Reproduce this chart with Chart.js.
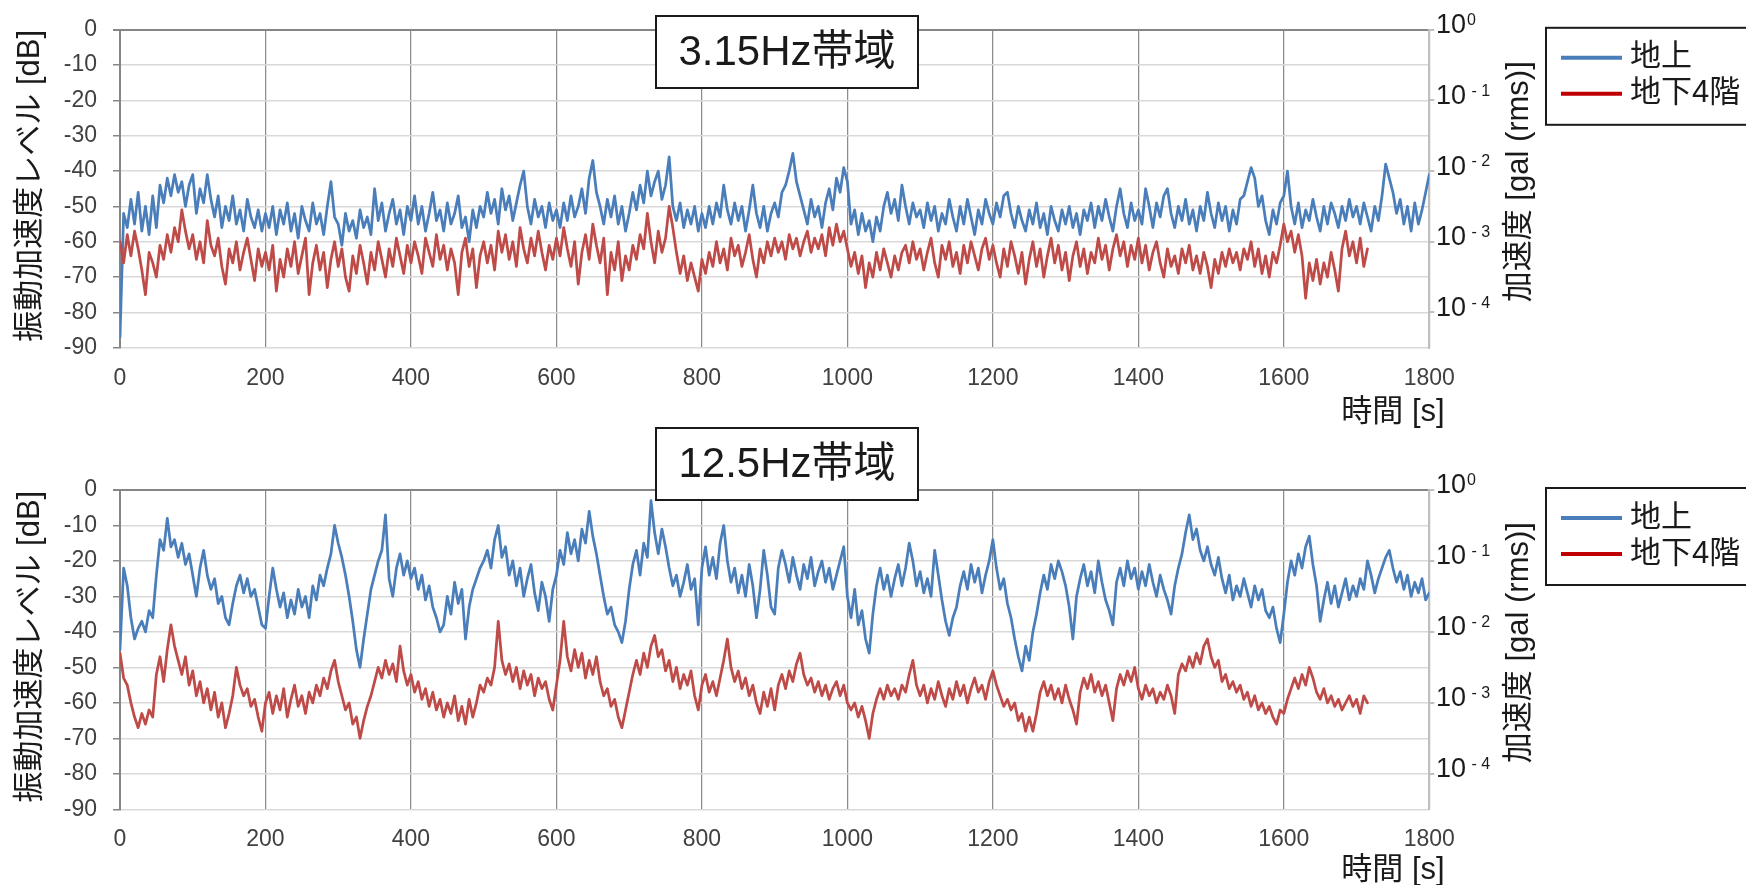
<!DOCTYPE html>
<html>
<head>
<meta charset="utf-8">
<script src="https://cdn.jsdelivr.net/npm/chart.js@4.4.0/dist/chart.umd.min.js"></script>
<style>
  html, body { margin: 0; padding: 0; background: #fff; }
  body { width: 1746px; height: 885px; position: relative; overflow: hidden; }
  .panel { position: absolute; left: 0; }
  #panelTop { top: 0; }
  #panelBottom { top: 420px; }
</style>
</head>
<body>
<div class="panel" id="panelTop"><canvas id="chartTop" width="1746" height="442"></canvas></div>
<div class="panel" id="panelBottom"><canvas id="chartBottom" width="1746" height="465"></canvas></div>
<script>
// one sample every 5 s
var SAMPLE_STEP_S = 5;
var seriesNames = ["地上", "地下4階"];
var panelTitles = ["3.15Hz帯域", "12.5Hz帯域"];
var rightTickExponents = [0, -1, -2, -3, -4];

// 3.15Hz帯域 - 地上 [dB]
var band315Ground = [
  -87,-52,-56,-48,-55,-46,-57,-50,-58,-47,-56,-44,-49,-42,-47,-41,-46,-43,-50,-44,
  -41,-52,-45,-49,-41,-48,-53,-47,-56,-50,-54,-47,-55,-51,-57,-48,-53,-56,-51,-57,
  -52,-56,-50,-58,-51,-55,-49,-57,-52,-59,-50,-54,-57,-49,-55,-52,-58,-50,-43,-53,
  -55,-61,-52,-57,-54,-59,-51,-56,-53,-58,-45,-54,-49,-57,-52,-48,-55,-51,-58,-50,
  -54,-47,-55,-50,-57,-52,-46,-54,-51,-57,-49,-55,-52,-47,-56,-53,-60,-51,-56,-50,
  -53,-46,-52,-48,-55,-45,-51,-47,-54,-49,-44,-40,-50,-55,-48,-53,-50,-56,-49,-54,
  -51,-56,-49,-54,-47,-53,-50,-45,-52,-42,-37,-46,-50,-55,-48,-53,-47,-55,-50,-57,
  -52,-46,-51,-44,-49,-40,-47,-43,-40,-48,-44,-36,-50,-54,-49,-56,-51,-55,-50,-57,
  -52,-56,-50,-55,-49,-53,-44,-51,-55,-49,-54,-50,-57,-51,-44,-52,-56,-50,-57,-52,
  -49,-53,-46,-44,-40,-35,-43,-47,-51,-55,-48,-53,-50,-56,-49,-45,-51,-42,-46,-39,
  -43,-55,-51,-58,-52,-57,-54,-60,-53,-57,-50,-46,-52,-48,-54,-44,-50,-55,-49,-53,
  -51,-56,-49,-54,-50,-57,-52,-55,-48,-53,-57,-50,-55,-48,-53,-58,-51,-55,-48,-52,
  -55,-49,-53,-47,-46,-52,-56,-50,-54,-57,-51,-55,-49,-56,-52,-58,-50,-54,-57,-51,
  -55,-50,-56,-52,-58,-51,-54,-49,-56,-50,-54,-48,-53,-57,-50,-45,-52,-56,-49,-54,
  -51,-55,-45,-50,-56,-49,-53,-47,-45,-52,-56,-50,-54,-48,-55,-51,-57,-50,-54,-46,
  -52,-56,-49,-54,-50,-57,-51,-55,-48,-47,-43,-39,-42,-50,-47,-54,-58,-51,-55,-49,
  -47,-40,-50,-55,-49,-56,-51,-54,-48,-53,-57,-50,-55,-49,-52,-56,-50,-54,-48,-53,
  -50,-55,-49,-53,-57,-50,-54,-47,-38,-42,-46,-52,-48,-55,-50,-57,-49,-55,-51,-46,
  -41
];

// 3.15Hz帯域 - 地下4階 [dB]
var band315Basement = [
  -60,-66,-58,-64,-57,-62,-68,-75,-63,-66,-70,-61,-65,-58,-63,-56,-60,-51,-57,-62,
  -58,-65,-60,-66,-54,-61,-64,-59,-67,-72,-62,-66,-60,-68,-63,-59,-65,-71,-62,-67,
  -63,-68,-61,-74,-65,-70,-62,-67,-60,-69,-64,-59,-75,-66,-61,-68,-63,-73,-65,-60,
  -67,-62,-70,-74,-64,-69,-61,-66,-72,-63,-68,-60,-65,-70,-62,-67,-59,-64,-69,-61,
  -66,-60,-64,-69,-59,-63,-67,-58,-65,-61,-68,-62,-66,-75,-63,-59,-67,-62,-73,-64,
  -60,-66,-61,-68,-57,-63,-58,-65,-60,-67,-56,-62,-66,-59,-64,-57,-63,-68,-61,-65,
  -59,-64,-56,-62,-67,-60,-72,-63,-58,-65,-55,-61,-66,-59,-75,-63,-68,-60,-71,-64,
  -68,-61,-65,-58,-62,-52,-60,-66,-57,-63,-59,-50,-56,-63,-69,-64,-71,-66,-70,-74,
  -65,-69,-63,-67,-60,-66,-62,-68,-59,-64,-61,-67,-63,-58,-65,-70,-62,-66,-60,-64,
  -59,-63,-60,-65,-58,-62,-59,-64,-60,-57,-63,-59,-62,-58,-64,-56,-61,-55,-60,-57,
  -62,-67,-63,-69,-64,-73,-66,-70,-63,-68,-62,-66,-70,-64,-68,-63,-61,-66,-60,-65,
  -62,-68,-63,-59,-66,-70,-61,-65,-60,-67,-63,-69,-61,-66,-60,-64,-68,-62,-59,-65,
  -61,-66,-70,-62,-67,-60,-64,-69,-63,-72,-65,-60,-67,-62,-70,-64,-59,-66,-61,-68,
  -63,-71,-64,-60,-67,-62,-69,-63,-66,-59,-65,-61,-68,-62,-58,-64,-60,-67,-61,-65,
  -59,-66,-61,-68,-63,-60,-66,-70,-62,-67,-64,-69,-62,-66,-61,-68,-64,-69,-63,-67,
  -73,-65,-69,-63,-67,-62,-66,-63,-68,-62,-65,-60,-67,-62,-69,-64,-70,-63,-66,-61,
  -55,-60,-57,-63,-58,-64,-76,-66,-71,-65,-72,-66,-70,-63,-68,-74,-62,-57,-64,-60,
  -66,-59,-67,-62
];

// 12.5Hz帯域 - 地上 [dB]
var band125Ground = [
  -45,-22,-27,-36,-42,-39,-37,-40,-34,-36,-24,-14,-17,-8,-16,-14,-19,-15,-21,-18,
  -24,-30,-22,-17,-24,-28,-25,-32,-30,-36,-38,-32,-27,-24,-29,-25,-30,-28,-33,-38,
  -39,-30,-22,-28,-33,-29,-36,-31,-35,-28,-33,-30,-36,-27,-31,-24,-27,-22,-18,-10,
  -15,-19,-24,-30,-37,-45,-50,-42,-35,-28,-24,-20,-17,-7,-25,-30,-22,-18,-24,-20,
  -25,-22,-28,-24,-31,-27,-33,-36,-40,-38,-30,-35,-26,-32,-28,-42,-33,-28,-25,-22,
  -20,-17,-22,-14,-10,-19,-16,-24,-20,-27,-22,-30,-25,-21,-29,-34,-26,-30,-37,-28,
  -24,-17,-21,-12,-18,-14,-20,-11,-15,-6,-13,-18,-24,-30,-35,-33,-38,-40,-43,-37,
  -28,-21,-17,-24,-15,-19,-3,-12,-18,-11,-16,-22,-27,-24,-30,-26,-21,-28,-25,-38,
  -22,-16,-24,-19,-25,-15,-10,-20,-26,-22,-29,-24,-30,-21,-27,-36,-28,-17,-24,-33,
  -35,-22,-17,-21,-26,-19,-24,-28,-21,-25,-19,-27,-23,-20,-26,-22,-28,-24,-20,-16,
  -30,-36,-28,-38,-34,-42,-46,-35,-27,-22,-28,-24,-30,-25,-21,-27,-22,-15,-20,-27,
  -23,-29,-25,-30,-17,-24,-31,-37,-41,-36,-33,-27,-23,-28,-21,-26,-22,-29,-24,-20,
  -14,-22,-28,-25,-32,-36,-42,-47,-51,-44,-48,-40,-35,-29,-24,-28,-21,-25,-20,-23,
  -27,-33,-42,-30,-25,-21,-27,-23,-29,-20,-26,-31,-34,-38,-26,-22,-27,-20,-25,-22,
  -28,-23,-27,-21,-26,-30,-24,-28,-31,-35,-27,-22,-18,-12,-7,-14,-11,-17,-20,-16,
  -21,-24,-19,-25,-29,-24,-31,-27,-30,-25,-29,-33,-27,-31,-28,-34,-36,-33,-39,-43,
  -35,-26,-20,-24,-18,-22,-16,-13,-21,-27,-37,-31,-26,-32,-27,-33,-29,-25,-31,-27,
  -30,-25,-28,-20,-24,-29,-25,-22,-19,-17,-22,-26,-23,-28,-24,-30,-26,-29,-25,-31,
  -29
];

// 12.5Hz帯域 - 地下4階 [dB]
var band125Basement = [
  -46,-53,-55,-60,-64,-67,-63,-66,-62,-64,-52,-47,-54,-45,-38,-44,-48,-52,-47,-55,
  -51,-58,-54,-60,-56,-62,-57,-64,-60,-67,-63,-58,-50,-55,-58,-56,-61,-59,-64,-68,
  -60,-57,-63,-58,-62,-56,-64,-59,-55,-61,-58,-63,-57,-60,-55,-58,-53,-56,-51,-48,
  -54,-58,-62,-60,-66,-64,-70,-65,-61,-58,-54,-50,-53,-48,-52,-49,-54,-44,-51,-55,
  -52,-57,-54,-59,-56,-61,-57,-62,-59,-64,-60,-63,-58,-65,-61,-66,-59,-64,-60,-55,
  -57,-53,-55,-50,-37,-48,-52,-49,-54,-50,-56,-51,-55,-52,-58,-53,-56,-54,-59,-62,
  -55,-48,-37,-47,-51,-45,-50,-46,-53,-48,-52,-47,-54,-58,-56,-61,-59,-64,-67,-62,
  -57,-52,-48,-52,-46,-50,-44,-41,-47,-45,-51,-48,-54,-50,-56,-52,-55,-51,-58,-62,
  -55,-52,-57,-54,-58,-53,-48,-42,-50,-54,-51,-56,-53,-58,-55,-60,-63,-57,-61,-56,
  -62,-55,-52,-56,-51,-54,-49,-46,-52,-55,-53,-57,-54,-58,-55,-59,-56,-54,-58,-55,
  -60,-62,-60,-64,-61,-65,-70,-63,-59,-56,-59,-55,-58,-56,-59,-55,-57,-52,-48,-55,
  -58,-55,-60,-56,-59,-54,-58,-61,-56,-59,-54,-58,-55,-60,-56,-53,-57,-55,-59,-54,
  -51,-55,-58,-61,-59,-62,-60,-65,-63,-68,-64,-68,-63,-57,-54,-58,-55,-59,-56,-60,
  -55,-59,-62,-66,-57,-53,-56,-52,-57,-54,-58,-55,-60,-65,-56,-52,-55,-51,-54,-50,
  -56,-59,-55,-58,-56,-60,-57,-59,-55,-58,-63,-52,-49,-51,-47,-50,-46,-49,-44,-42,
  -47,-50,-48,-54,-52,-56,-54,-57,-55,-59,-57,-61,-58,-62,-60,-63,-61,-64,-66,-62,
  -63,-59,-56,-53,-56,-52,-55,-50,-53,-57,-59,-56,-60,-58,-61,-59,-62,-60,-58,-61,
  -59,-63,-58,-60
];

var NUM_FONT = '"Liberation Sans", Arial, sans-serif';
var JP_FONT = '"Liberation Sans", "Noto Sans CJK JP", sans-serif';
var TEXT_COLOR = "#1a1a1a";
var TICK_COLOR = "#404040";
var lineColors = ["#4a7ebb", "#be4b48"];
var legendColors = ["#4a7ebb", "#c00000"];

function toPoints(values) {
  return values.map(function (v, i) {
    return { x: i * SAMPLE_STEP_S, y: v };
  });
}

// titles, legend box, right axis labels
var decorations = {
  id: "decorations",
  afterDraw: function (chart, args, opts) {
    var ctx = chart.ctx;
    var area = chart.chartArea;
    var midY = (area.top + area.bottom) / 2;

    ctx.save();
    ctx.fillStyle = TEXT_COLOR;

    // left axis title
    ctx.font = "31px " + JP_FONT;
    ctx.textAlign = "center";
    ctx.textBaseline = "middle";
    ctx.save();
    ctx.translate(30, midY - 3);
    ctx.rotate(-Math.PI / 2);
    ctx.fillText("振動加速度レベル [dB]", 0, 0);
    ctx.restore();

    // right axis title
    ctx.save();
    ctx.translate(1519, midY - 7);
    ctx.rotate(-Math.PI / 2);
    ctx.fillText("加速度 [gal (rms)]", 0, 0);
    ctx.restore();

    // x axis title
    ctx.fillText("時間 [s]", 1393, area.bottom + opts.xTitleOffset);

    // right axis tick labels 10^n
    var yr = chart.scales.yr;
    rightTickExponents.forEach(function (e) {
      var y = yr.getPixelForValue(Math.pow(10, e)) - 4;
      ctx.fillStyle = TEXT_COLOR;
      ctx.textAlign = "left";
      ctx.font = "27px " + NUM_FONT;
      ctx.fillText("10", 1436, y);
      var w = ctx.measureText("10").width;
      ctx.font = "16px " + NUM_FONT;
      ctx.fillText(e === 0 ? "0" : " - " + (-e), 1436 + w + 1, y - 5);
    });

    // title box
    ctx.lineWidth = 2;
    ctx.strokeStyle = "#1a1a1a";
    ctx.fillStyle = "#fff";
    ctx.fillRect(656, opts.boxTop, 262, 72);
    ctx.strokeRect(656, opts.boxTop, 262, 72);
    ctx.fillStyle = TEXT_COLOR;
    ctx.textAlign = "center";
    ctx.font = "42px " + JP_FONT;
    ctx.fillText(opts.title, 787, opts.boxTop + 37);

    // legend
    var lt = area.top - 2;
    ctx.strokeRect(1546, lt, 260, 97);
    ctx.font = "31px " + JP_FONT;
    ctx.textAlign = "left";
    chart.data.datasets.forEach(function (ds, i) {
      var ly = lt + 30 + i * 36;
      ctx.strokeStyle = legendColors[i];
      ctx.lineWidth = 4;
      ctx.beginPath();
      ctx.moveTo(1561, ly);
      ctx.lineTo(1622, ly);
      ctx.stroke();
      ctx.fillText(ds.label, 1630, ly);
    });
    ctx.restore();
  },
};

function makeChart(id, title, ground, basement, pad, deco) {
  var ctx = document.getElementById(id).getContext("2d");
  var lineStyle = { borderWidth: 2.75, pointRadius: 0, borderJoinStyle: "round", borderCapStyle: "round" };
  return new Chart(ctx, {
    type: "line",
    data: {
      datasets: [
        Object.assign({ label: seriesNames[0], data: toPoints(ground), borderColor: lineColors[0], order: 1 }, lineStyle),
        Object.assign({ label: seriesNames[1], data: toPoints(basement), borderColor: lineColors[1], order: 0 }, lineStyle),
      ],
    },
    options: {
      responsive: false,
      animation: false,
      layout: { padding: pad },
      plugins: {
        legend: { display: false },
        tooltip: { enabled: false },
        decorations: Object.assign({ title: title }, deco),
      },
      scales: {
        x: {
          type: "linear",
          min: 0,
          max: 1800,
          ticks: {
            stepSize: 200, padding: 17, maxRotation: 0, color: TICK_COLOR,
            font: { family: NUM_FONT, size: 23 },
            callback: function (v) { return String(v); },
          },
          grid: {
            color: function (c) { return c.tick && c.tick.value === 1800 ? "#bfbfbf" : "#8c8c8c"; },
            lineWidth: 1.25,
            drawTicks: false,
          },
          border: { display: false },
          afterFit: function (s) { s.height = 60; },
        },
        y: {
          position: "left",
          min: -90,
          max: 0,
          ticks: { stepSize: 10, padding: 16, color: TICK_COLOR, font: { family: NUM_FONT, size: 23 } },
          grid: {
            color: function (c) { return c.tick && c.tick.value === 0 ? "#868686" : "#d9d9d9"; },
            lineWidth: function (c) { return c.tick && c.tick.value === 0 ? 2 : 1.5; },
            tickColor: "#868686",
            tickLength: 7,
          },
          border: { color: "#868686", width: 2 },
          afterFit: function (s) { s.width = 120; },
        },
        yr: {
          type: "logarithmic",
          position: "right",
          min: Math.pow(10, -4.5),
          max: 1,
          afterBuildTicks: function (s) {
            s.ticks = rightTickExponents.map(function (e) { return { value: Math.pow(10, e) }; });
          },
          ticks: { display: false },
          grid: { drawOnChartArea: false, color: "#bfbfbf", lineWidth: 2, tickLength: 5 },
          border: { color: "#bfbfbf", width: 2 },
          afterFit: function (s) { s.width = 316.7; },
        },
      },
    },
    plugins: [decorations],
  });
}

makeChart("chartTop", panelTitles[0], band315Ground, band315Basement,
  { top: 28.3, bottom: 34.3, left: 0, right: 0 },
  { boxTop: 16, xTitleOffset: 65 });
makeChart("chartBottom", panelTitles[1], band125Ground, band125Basement,
  { top: 70, bottom: 15.7, left: 0, right: 0 },
  { boxTop: 8, xTitleOffset: 61 });
</script>
</body>
</html>
